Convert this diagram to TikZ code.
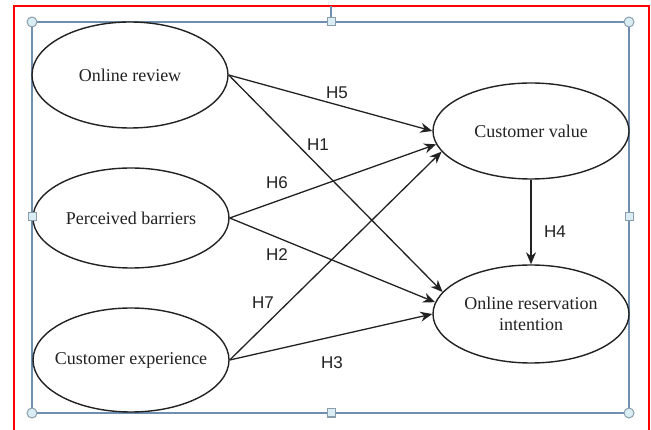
\documentclass[tikz,border=0pt]{standalone}
\usepackage{fontspec}
\setmainfont{Liberation Serif}
\newfontfamily\hfont{Liberation Sans}
\usetikzlibrary{shapes.geometric,arrows.meta}
\definecolor{selblue}{HTML}{6F8FB0}
\definecolor{handlefill}{HTML}{D9EEF4}
\definecolor{handleline}{HTML}{8B9DAA}
\definecolor{ink}{HTML}{222222}
\begin{document}
\begin{tikzpicture}[x=1pt,y=-1pt,
  construct/.style={ellipse,draw=ink,line width=1.4pt,fill=white,
    inner xsep=-10pt,inner ysep=0pt,
    minimum width=196pt,align=center,text=ink,font=\fontsize{18}{21}\selectfont},
  link/.style={-{Stealth[length=12pt,width=10pt]},line width=1.3pt,draw=ink},
  hyp/.style={text=ink,font=\hfont\fontsize{17}{19}\selectfont},
  cornerhandle/.style={circle,draw=handleline,fill=handlefill,line width=1pt,
    minimum size=10pt,inner sep=0pt},
  sidehandle/.style={rectangle,draw=handleline,fill=handlefill,line width=1pt,
    minimum size=8pt,inner sep=0pt}]
  % canvas
  \useasboundingbox (0,0) rectangle (651,430);
  \fill[white] (0,0) rectangle (651,430);
  % outer frame
  \draw[red,line width=1.5pt] (14,440) -- (14,6) -- (649,6) -- (649,440);
  % selection box and its rotation stem
  \draw[selblue,line width=1.2pt] (32,22) rectangle (629,413);
  \draw[selblue,line width=1.2pt] (331,6) -- (331,22);

  % constructs
  \node[construct,minimum height=106pt] (or)  at (130,75)  {Online review};
  \node[construct,minimum height=100pt] (pb)  at (131,218) {Perceived barriers};
  \node[construct,minimum height=104pt] (ce)  at (131,360) {Customer experience};
  \node[construct,minimum height=96pt]  (cv)  at (531,131) {Customer value};
  \node[construct,minimum height=98pt]  (ori) at (531,314) {Online reservation\\intention};

  % hypothesised paths
  \draw[link] (or.east) -- (cv.180);
  \draw[link] (or.east) -- (ori.166);
  \draw[link] (pb.east) -- (cv.188);
  \draw[link] (pb.east) -- (ori.173);
  \draw[link] (ce.east) -- (cv.193);
  \draw[link] (ce.east) -- (ori.180);
  \draw[link] (cv.south) -- (ori.north);

  % path labels
  \node[hyp] (h5) at (337,93)  {H5};
  \node[hyp] (h1) at (318,145) {H1};
  \node[hyp] (h6) at (277,183) {H6};
  \node[hyp] (h2) at (277,255) {H2};
  \node[hyp] (h7) at (263,303) {H7};
  \node[hyp] (h3) at (332,363) {H3};
  \node[hyp] (h4) at (555,232) {H4};

  % selection handles
  \node[cornerhandle] (hnw) at (32,22) {};
  \node[cornerhandle] (hne) at (629,22) {};
  \node[cornerhandle] (hsw) at (32,413) {};
  \node[cornerhandle] (hse) at (629,413) {};
  \node[sidehandle] (hn) at (331,22) {};
  \node[sidehandle] (hs) at (331,413) {};
  \node[sidehandle] (hw) at (32,217) {};
  \node[sidehandle] (he) at (629,217) {};
\end{tikzpicture}
\end{document}
